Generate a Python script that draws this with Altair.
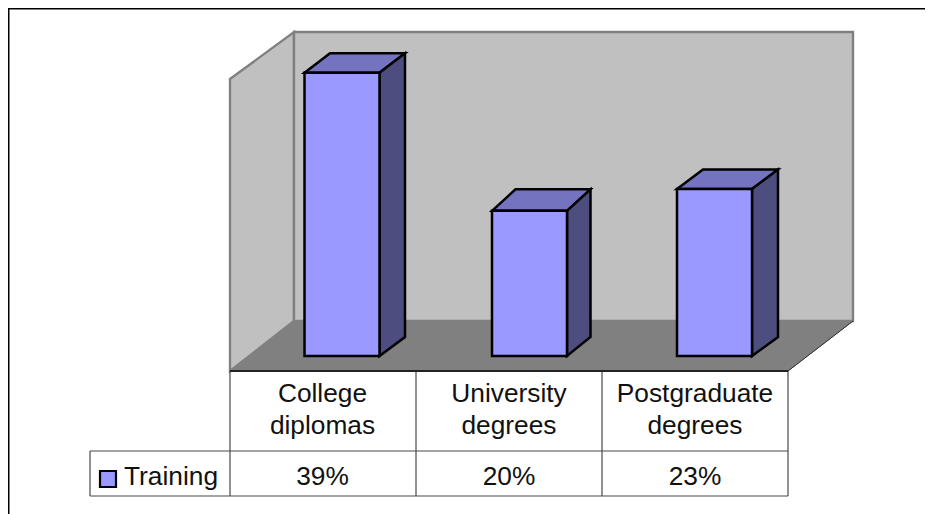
import altair as alt
import pandas as pd

CATEGORIES = [["College", "diplomas"], ["University", "degrees"], ["Postgraduate", "degrees"]]
VALUES = [39, 20, 23]
SERIES = "Training"

# geometry: x unit = one table column, y unit = one percent
PX_X = 186.0
PX_Y = 7.26
W, H = 917, 506
ux = lambda p: (p - 230) / PX_X
uy = lambda p: (371 - p) / PX_Y
XS = alt.Scale(domain=[ux(8), ux(8 + W)], range=[0, W], nice=False, zero=False)
YS = alt.Scale(domain=[uy(8), uy(8 + H)], range=[0, H], nice=False, zero=False)
X = alt.X("x:Q", scale=XS, axis=None)
Y = alt.Y("y:Q", scale=YS, axis=None, stack=None)
X2, Y2 = alt.X2("x2"), alt.Y2("y2")

FONT = dict(font="Liberation Sans", fontSize=26.3, color="#111111")


def area(rows, fill, stroke, sw):
    df = pd.DataFrame(rows, columns=["g", "i", "x", "y", "y2"])
    return alt.Chart(df).mark_area(orient="vertical", fill=fill, stroke=stroke, strokeWidth=sw,
                                   strokeJoin="miter", opacity=1).encode(
        x=X, y=Y, y2=Y2, detail="g:N")


def rect(rows, fill, stroke, sw):
    df = pd.DataFrame(rows, columns=["x", "x2", "y", "y2"])
    return alt.Chart(df).mark_rect(fill=fill, stroke=stroke, strokeWidth=sw).encode(x=X, x2=X2, y=Y, y2=Y2)


def rules(rows, color, sw):
    df = pd.DataFrame(rows, columns=["x", "x2", "y", "y2"])
    return alt.Chart(df).mark_rule(color=color, strokeWidth=sw).encode(x=X, x2=X2, y=Y, y2=Y2)


def texts(rows):
    return pd.DataFrame(rows, columns=["x", "y", "t"])


# walls and floor
left_wall = area([(0, 0, ux(230), uy(79), uy(371)), (0, 1, ux(294), uy(32), uy(321))], "#C0C0C0", "#808080", 2.4)
back_wall = rect([(ux(294), ux(853), uy(32), uy(321))], "#C0C0C0", "#808080", 2.4)
floor = area([(0, 0, ux(230), uy(371), uy(371)), (0, 1, ux(294), uy(321), uy(371)),
              (0, 2, ux(788), uy(321), uy(371)), (0, 3, ux(853), uy(321), uy(321))], "#808080", "#808080", 1)
diagonal = rules([(ux(788), ux(853), uy(371), uy(321))], "#303030", 1)

# bars
BAR_LEFT = [304.5, 492, 677]
BAR_W = [75, 75, 75]
BAR_DX = [25.5, 23.5, 26]
BAR_DY_TOP = [19.5, 21.5, 19.5]
BAR_DY_FOOT = 19
BASE = uy(356)
front, top, side = [], [], []
for k, (l, w, dx, dt, v) in enumerate(zip(BAR_LEFT, BAR_W, BAR_DX, BAR_DY_TOP, VALUES)):
    x0, x1, x2 = ux(l), ux(l + w), ux(l + w + dx)
    xd = ux(l + dx)
    d = dt / PX_Y
    y = BASE + v
    front.append((x0, x1, y, BASE))
    top += [(k, 0, x0, y, y), (k, 1, xd, y + d, y), (k, 2, x1, y + d, y), (k, 3, x2, y + d, y + d)]
    side += [(k, 0, x1, y, BASE), (k, 1, x2, y + d, BASE + BAR_DY_FOOT / PX_Y)]
bar_top = area(top, "#7373BF", "#000000", 2.5)
bar_side = area(side, "#4D4D80", "#000000", 2.5)
bar_front = rect(front, "#9999FF", "#000000", 2.5)

# data table
C = [230, 416, 602, 788]
grid = rules(
    [(ux(c), ux(c), uy(371), uy(496)) for c in C]
    + [(ux(90), ux(90), uy(451), uy(496))]
    + [(ux(90), ux(788), uy(451), uy(451)), (ux(90), ux(788), uy(496), uy(496))],
    "#484848", 1.2)
front_edge = rules([(ux(230), ux(788), uy(371), uy(371))], "#222222", 2)

rows = []
CENTERS = [322.5, 509, 695]
for cx, (a, b), v in zip(CENTERS, CATEGORIES, VALUES):
    rows += [(ux(cx), uy(401.5), a), (ux(cx), uy(433.5), b), (ux(cx), uy(484.5), f"{v}%")]
labels = alt.Chart(texts(rows)).mark_text(align="center", baseline="alphabetic", **FONT).encode(
    x=X, y=Y, text="t:N")
legend_text = alt.Chart(texts([(ux(124), uy(485), SERIES)])).mark_text(
    align="left", baseline="alphabetic", **FONT).encode(x=X, y=Y, text="t:N")
swatch = rect([(ux(100), ux(116), uy(471), uy(487))], "#9999FF", "#000000", 2.2)

# frame of the picture (open on the right and bottom)
frame = rules([(ux(8), ux(8 + W), uy(8), uy(8)), (ux(8), ux(8), uy(8), uy(8 + H))], "#000000", 3)

chart = alt.layer(
    frame, left_wall, back_wall, floor, diagonal, grid, front_edge,
    bar_top, bar_side, bar_front, labels, legend_text, swatch,
).properties(width=W, height=H, padding=0, autosize=alt.AutoSizeParams(type="none"), background="white"
).configure_view(stroke=None)

chart.save("out.html", embed_options={"renderer": "svg", "actions": False})
